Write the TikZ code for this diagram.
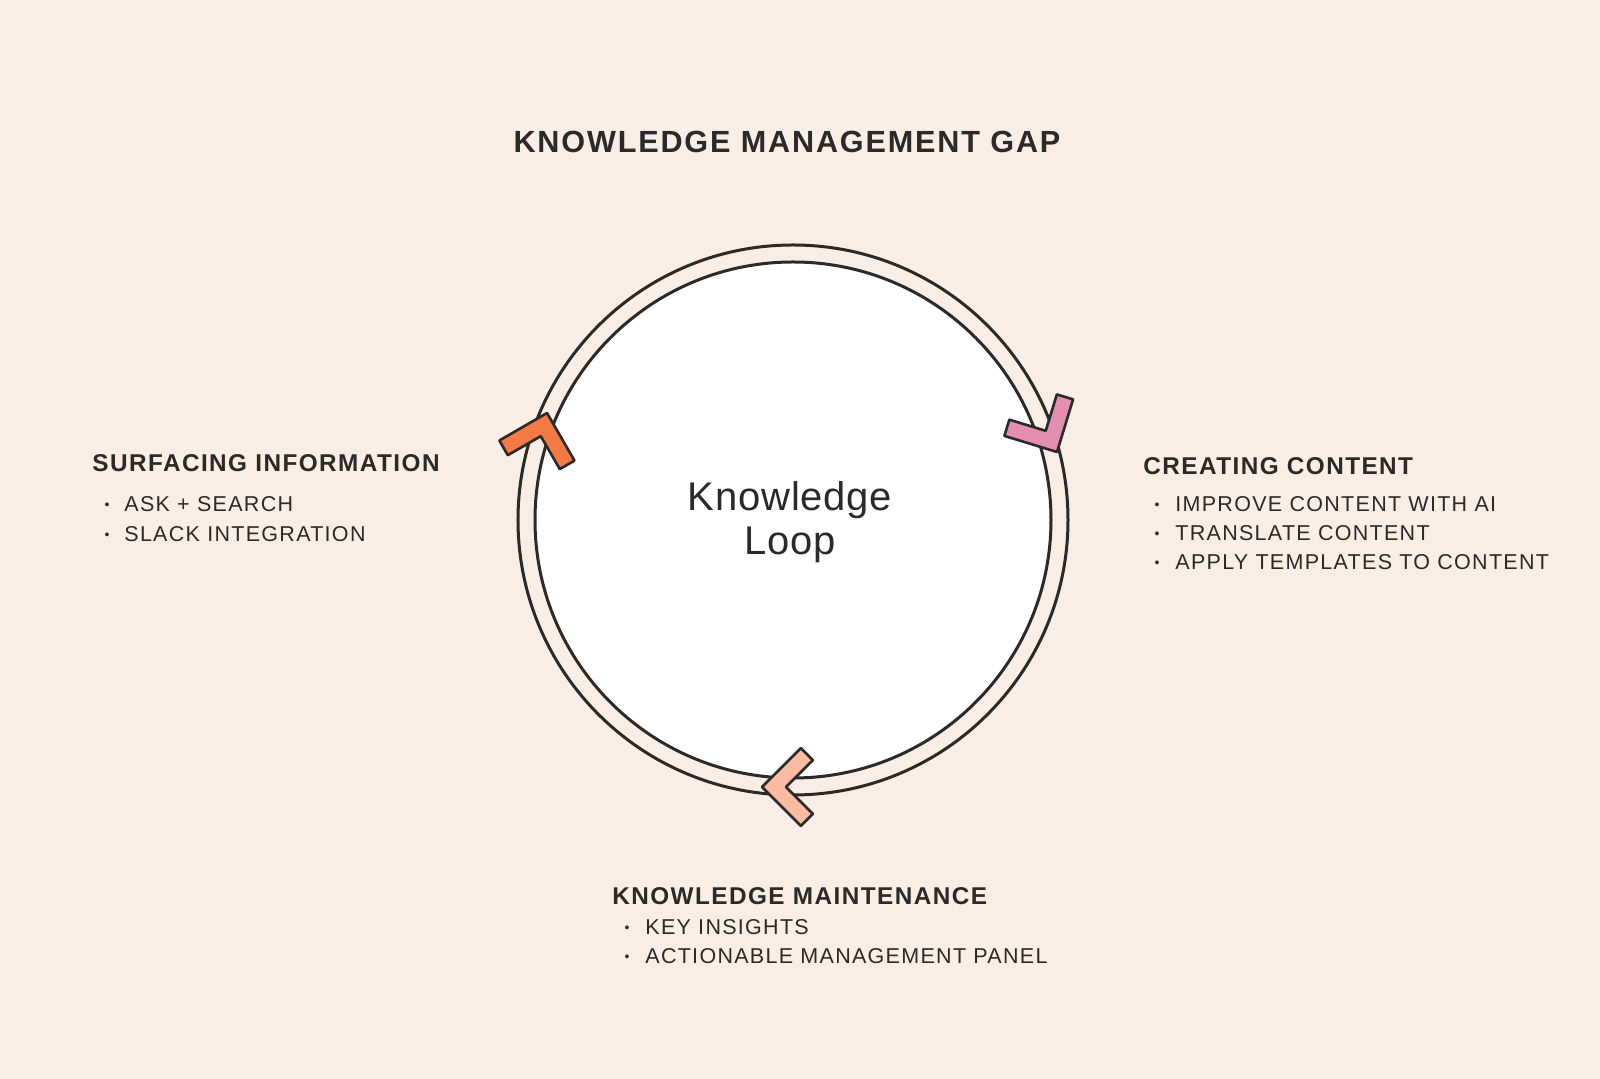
\documentclass[tikz,border=0pt]{standalone}
\usepackage{fontspec}
\setmainfont{Liberation Sans}
\newfontfamily\capsfont[LetterSpace=6]{Liberation Sans}
\newfontfamily\loopfont[LetterSpace=2]{Liberation Sans}
\usetikzlibrary{positioning}
\definecolor{paper}{HTML}{F8EEE5}
\definecolor{ink}{HTML}{2A2A2A}
\definecolor{chevorange}{HTML}{F47A45}
\definecolor{chevpink}{HTML}{E48FB0}
\definecolor{chevpeach}{HTML}{FBBBA3}
\tikzset{
  head/.style={anchor=base west,inner sep=0,text=ink,font=\capsfont\bfseries\fontsize{12.15}{14}\selectfont},
  item/.style={anchor=base west,inner sep=0,text=ink,font=\capsfont\fontsize{10.75}{13}\selectfont},
  dot/.style={anchor=base,inner sep=0,text=ink,font=\fontsize{7}{8}\selectfont},
  ring/.style={draw=ink,line width=1.5pt},
  pics/chevron/.style={code={
    \draw[draw=ink,line width=1.3pt,line join=round,fill=#1]
      (0,0) -- (-38.9,38.9) -- (-50.9,26.9) -- (-24,0) -- (-50.9,-26.9) -- (-38.9,-38.9) -- cycle;}}
}
\begin{document}
\begin{tikzpicture}[x=.5pt,y=.5pt]
\fill[paper] (-793,520) rectangle (807,-559);
\useasboundingbox (-793,520) rectangle (807,-559);

\node[anchor=base,inner sep=0,text=ink,font=\capsfont\bfseries\fontsize{15.3}{18}\selectfont] (title) at (-6,367) {KNOWLEDGE MANAGEMENT GAP};

\draw[ring,fill=paper] (0,0) circle (275);
\draw[ring,fill=white] (0,0) circle (258);
\node[align=center,text=ink,font=\loopfont\fontsize{20}{22}\selectfont] (loop) at (-3,-2) {Knowledge\\Loop};

\pic[rotate=75] (orangechev) at (-246,107) {chevron=chevorange};
\pic[rotate=-62] (pinkchev) at (264,68) {chevron=chevpink};
\pic[rotate=180] (peachchev) at (-31,-267) {chevron=chevpeach};

% left
\node[head] (surf) at (-701,48) {SURFACING INFORMATION};
\node[dot] at (-686,8) {\raisebox{1pt}{•}};
\node[item] (surf1) at (-669,8) {ASK + SEARCH};
\node[dot] at (-686,-22) {\raisebox{1pt}{•}};
\node[item] (surf2) at (-669,-22) {SLACK INTEGRATION};

% right
\node[head] (create) at (350,45) {CREATING CONTENT};
\node[dot] at (364,8) {\raisebox{1pt}{•}};
\node[item] (create1) at (382,8) {IMPROVE CONTENT WITH AI};
\node[dot] at (364,-21) {\raisebox{1pt}{•}};
\node[item] (create2) at (382,-21) {TRANSLATE CONTENT};
\node[dot] at (364,-50) {\raisebox{1pt}{•}};
\node[item] (create3) at (382,-50) {APPLY TEMPLATES TO CONTENT};

% bottom
\node[head] (maint) at (-181,-385) {KNOWLEDGE MAINTENANCE};
\node[dot] at (-166,-415) {\raisebox{1pt}{•}};
\node[item] (maint1) at (-148,-415) {KEY INSIGHTS};
\node[dot] at (-166,-444) {\raisebox{1pt}{•}};
\node[item] (maint2) at (-148,-444) {ACTIONABLE MANAGEMENT PANEL};
\end{tikzpicture}
\end{document}
